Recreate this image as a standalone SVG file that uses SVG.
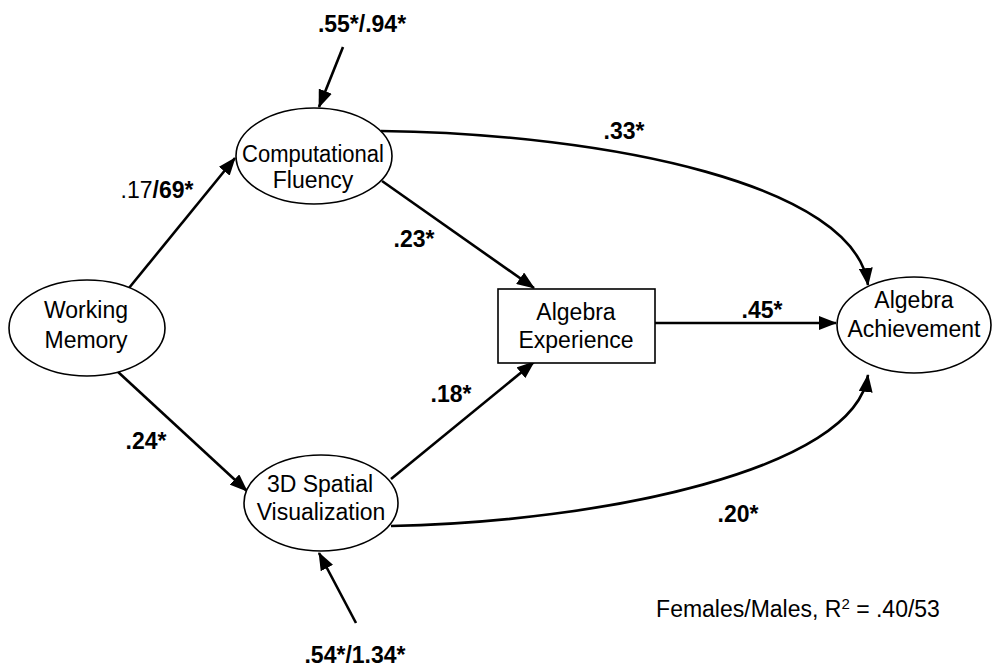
<svg xmlns="http://www.w3.org/2000/svg" width="992" height="669" viewBox="0 0 992 669">
<style>
.node{fill:#fff;stroke:#000;stroke-width:1.6}
.nt{font-family:"Liberation Sans",Arial,sans-serif;font-size:23px;text-anchor:middle;fill:#000}
.lb{font-family:"Liberation Sans",Arial,sans-serif;font-size:23px;font-weight:bold;text-anchor:middle;fill:#000}
.cn{fill:none;stroke:#000;stroke-width:2.6;marker-end:url(#ah)}
</style>
<defs>
<marker id="ah" markerUnits="userSpaceOnUse" markerWidth="18" markerHeight="14" viewBox="0 0 18 14" refX="17" refY="7" orient="auto">
<path d="M0,0 L18,7 L0,14 Z" fill="#000"/>
</marker>
</defs>
<rect width="992" height="669" fill="#fff"/>
<g id="connectors">
<path class="cn" d="M129,288 L235,158"/>
<path class="cn" d="M117,371 L247,491"/>
<path class="cn" d="M343,47 L319,107"/>
<path class="cn" d="M356,623 L319,553"/>
<path class="cn" d="M382,181 L534,288"/>
<path class="cn" d="M391,479 L534,362"/>
<path class="cn" d="M655,323 L836,323"/>
<path class="cn" d="M381,131 C610,134 855,185 868,285"/>
<path class="cn" d="M391,526 C600,522 855,470 868,375"/>
</g>
<g id="working-memory">
<ellipse class="node" cx="87" cy="328" rx="78" ry="48"/>
<text class="nt" x="86" y="318">Working</text>
<text class="nt" x="86" y="348">Memory</text>
</g>
<g id="computational-fluency">
<ellipse class="node" cx="314" cy="156" rx="78" ry="48"/>
<text class="nt" x="313" y="162" textLength="142" lengthAdjust="spacingAndGlyphs">Computational</text>
<text class="nt" x="313" y="188">Fluency</text>
</g>
<g id="spatial-visualization">
<ellipse class="node" cx="321" cy="503" rx="77" ry="48"/>
<text class="nt" x="320" y="492">3D Spatial</text>
<text class="nt" x="321" y="520">Visualization</text>
</g>
<g id="algebra-experience">
<rect class="node" x="498" y="289" width="157" height="74"/>
<text class="nt" x="576" y="320">Algebra</text>
<text class="nt" x="576" y="348">Experience</text>
</g>
<g id="algebra-achievement">
<ellipse class="node" cx="914" cy="325" rx="77" ry="48"/>
<text class="nt" x="914" y="308">Algebra</text>
<text class="nt" x="914" y="337">Achievement</text>
</g>
<g id="labels">
<text class="lb" x="362" y="32">.55*/.94*</text>
<text class="lb" x="157" y="198"><tspan font-weight="normal">.17</tspan>/69*</text>
<text class="lb" x="414" y="247">.23*</text>
<text class="lb" x="624" y="139">.33*</text>
<text class="lb" x="762" y="318">.45*</text>
<text class="lb" x="451" y="402">.18*</text>
<text class="lb" x="146" y="449">.24*</text>
<text class="lb" x="738" y="522">.20*</text>
<text class="lb" x="355" y="663">.54*/1.34*</text>
<text class="nt" x="798" y="617" font-size="23.5">Females/Males, R<tspan dy="-8" font-size="15">2</tspan><tspan dy="8"> = .40/53</tspan></text>
</g>
</svg>
